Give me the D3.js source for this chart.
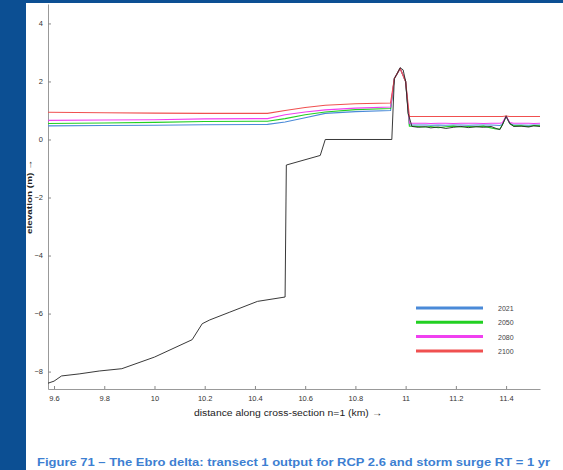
<!DOCTYPE html>
<html>
<head>
<meta charset="utf-8">
<script src="https://cdn.jsdelivr.net/npm/d3@7"></script>
<style>
  html, body {margin: 0; padding: 0; background: #fff;}
  svg {display: block; font-family: 'Liberation Sans', Arial, sans-serif;}
</style>
</head>
<body>
<div id="container"></div>
<script>
// bed profile (black)
const bedKm = [9.576, 9.6, 9.63, 9.7, 9.78, 9.87, 10.0, 10.15, 10.19, 10.22, 10.3, 10.41, 10.52, 10.525, 10.66, 10.68,
  10.945, 10.955, 10.965, 10.978, 10.99, 11.0, 11.01, 11.025, 11.05, 11.08, 11.1, 11.13, 11.16, 11.19, 11.22, 11.25,
  11.28, 11.31, 11.34, 11.36, 11.375, 11.385, 11.4, 11.415, 11.43, 11.46, 11.49, 11.51, 11.535];
const bedElev = [-8.4, -8.33, -8.15, -8.08, -7.98, -7.9, -7.5, -6.9, -6.35, -6.22, -5.95, -5.58, -5.43, -0.88, -0.55, 0.0,
  0.0, 2.1, 2.25, 2.47, 2.4, 2.0, 0.9, 0.45, 0.42, 0.44, 0.4, 0.43, 0.38, 0.42, 0.45, 0.41,
  0.44, 0.42, 0.45, 0.38, 0.34, 0.5, 0.8, 0.55, 0.45, 0.46, 0.43, 0.47, 0.45];

// water levels per year
const waterKm = [9.576, 9.8, 10.0, 10.2, 10.45, 10.52, 10.6, 10.68, 10.8, 10.94, 10.955, 10.978, 11.0, 11.015,
  11.05, 11.08, 11.1, 11.13, 11.16, 11.19, 11.22, 11.25, 11.28, 11.31, 11.34, 11.36, 11.375, 11.385, 11.4, 11.415,
  11.43, 11.46, 11.49, 11.51, 11.535];
const level2021 = [0.47, 0.48, 0.49, 0.51, 0.52, 0.6, 0.75, 0.9, 0.96, 1.0, 2.1, 2.45, 2.0, 0.5,
  0.5, 0.5, 0.49, 0.5, 0.49, 0.5, 0.5, 0.49, 0.5, 0.5, 0.5, 0.49, 0.48, 0.52, 0.8, 0.55,
  0.5, 0.5, 0.49, 0.5, 0.5];
const level2050 = [0.55, 0.57, 0.59, 0.62, 0.63, 0.72, 0.85, 0.95, 1.03, 1.07, 2.1, 2.45, 2.0, 0.46,
  0.45, 0.43, 0.45, 0.41, 0.44, 0.46, 0.43, 0.45, 0.44, 0.46, 0.4, 0.36, 0.36, 0.5, 0.8, 0.55,
  0.47, 0.47, 0.45, 0.48, 0.47];
const level2080 = [0.66, 0.67, 0.68, 0.71, 0.72, 0.85, 0.95, 1.02, 1.08, 1.12, 2.1, 2.45, 2.0, 0.56,
  0.56, 0.56, 0.55, 0.56, 0.56, 0.55, 0.56, 0.56, 0.56, 0.55, 0.56, 0.56, 0.56, 0.58, 0.8, 0.58,
  0.56, 0.56, 0.56, 0.55, 0.56];
const level2100 = [0.94, 0.92, 0.91, 0.9, 0.9, 1.0, 1.1, 1.18, 1.23, 1.26, 2.1, 2.45, 2.0, 0.79,
  0.79, 0.79, 0.79, 0.79, 0.79, 0.79, 0.79, 0.79, 0.79, 0.79, 0.79, 0.79, 0.79, 0.79, 0.81, 0.79,
  0.79, 0.79, 0.79, 0.79, 0.79];

const years = ['2021', '2050', '2080', '2100'];
const levels = [level2021, level2050, level2080, level2100];
const colors = ['#4a8ad8', '#22d022', '#f040f0', '#f05050'];

const xTicks = [9.6, 9.8, 10, 10.2, 10.4, 10.6, 10.8, 11, 11.2, 11.4];
const yTicks = [4, 2, 0, -2, -4, -6, -8];

const width = 563; const height = 470;
const svg = d3.select('#container').append('svg')
    .attr('width', width)
    .attr('height', height);

// page frame
svg.append('rect').attr('width', width).attr('height', height).attr('fill', '#0c4f93');
svg.append('rect').attr('x', 26).attr('y', 3).attr('width', width - 26).attr('height', height - 3).attr('fill', '#fff');

const x = d3.scaleLinear().domain([9.576, 11.535]).range([48, 540]);
const y = d3.scaleLinear().domain([-8.6, 4.67]).range([389, 4]);

const xAxis = svg.append('g').attr('transform', 'translate(0,389)')
    .call(d3.axisBottom(x).tickValues(xTicks).tickFormat((d) => d3.format('')(d))
        .tickSizeInner(-3).tickSizeOuter(0).tickPadding(7));
const yAxis = svg.append('g').attr('transform', 'translate(48,0)')
    .call(d3.axisLeft(y).tickValues(yTicks).tickSizeInner(-3).tickSizeOuter(0).tickPadding(5));

[xAxis, yAxis].forEach((a) => {
  a.select('.domain').attr('stroke', '#999');
  a.selectAll('.tick line').attr('stroke', '#888');
  a.selectAll('.tick text').attr('fill', '#333').style('font-size', '7.5px')
      .style('font-family', '\'Liberation Sans\', Arial, sans-serif');
});

const line = d3.line()
    .x((d) => x(d[0]))
    .y((d) => y(d[1]));

// water levels
levels.forEach((lv, i) => {
  svg.append('path')
      .datum(waterKm.map((k, j) => [k, lv[j]]))
      .attr('fill', 'none')
      .attr('stroke', colors[i])
      .attr('stroke-width', 1.1)
      .attr('d', line);
});

// bed
svg.append('path')
    .datum(bedKm.map((k, j) => [k, bedElev[j]]))
    .attr('fill', 'none')
    .attr('stroke', '#222')
    .attr('stroke-width', 0.9)
    .attr('d', line);

// legend
const legend = svg.append('g').attr('transform', 'translate(416,308)');
years.forEach((yr, i) => {
  const row = legend.append('g').attr('transform', 'translate(0,' + (i * 14.3) + ')');
  row.append('line').attr('x1', 0).attr('x2', 67).attr('stroke', colors[i]).attr('stroke-width', 3);
  row.append('text').attr('x', 82).attr('dy', 3).text(yr)
      .attr('fill', '#444').style('font-size', '7px');
});

// axis titles
svg.append('text')
    .attr('x', 288).attr('y', 416)
    .attr('text-anchor', 'middle')
    .attr('fill', '#222')
    .style('font-size', '8.5px')
    .attr('textLength', 188)
    .attr('lengthAdjust', 'spacingAndGlyphs')
    .text('distance along cross-section n=1 (km) →');

svg.append('text')
    .attr('transform', 'translate(32,197) rotate(-90)')
    .attr('text-anchor', 'middle')
    .attr('fill', '#222')
    .style('font-size', '8px')
    .style('font-weight', 'bold')
    .attr('textLength', 74)
    .attr('lengthAdjust', 'spacingAndGlyphs')
    .text('elevation (m) →');

// caption
svg.append('text')
    .attr('x', 37).attr('y', 466)
    .attr('fill', '#3d7fd2')
    .style('font-size', '11px')
    .style('font-weight', 'bold')
    .attr('textLength', 513)
    .attr('lengthAdjust', 'spacingAndGlyphs')
    .text('Figure 71 – The Ebro delta: transect 1 output for RCP 2.6 and storm surge RT = 1 yr');
</script>
</body>
</html>
